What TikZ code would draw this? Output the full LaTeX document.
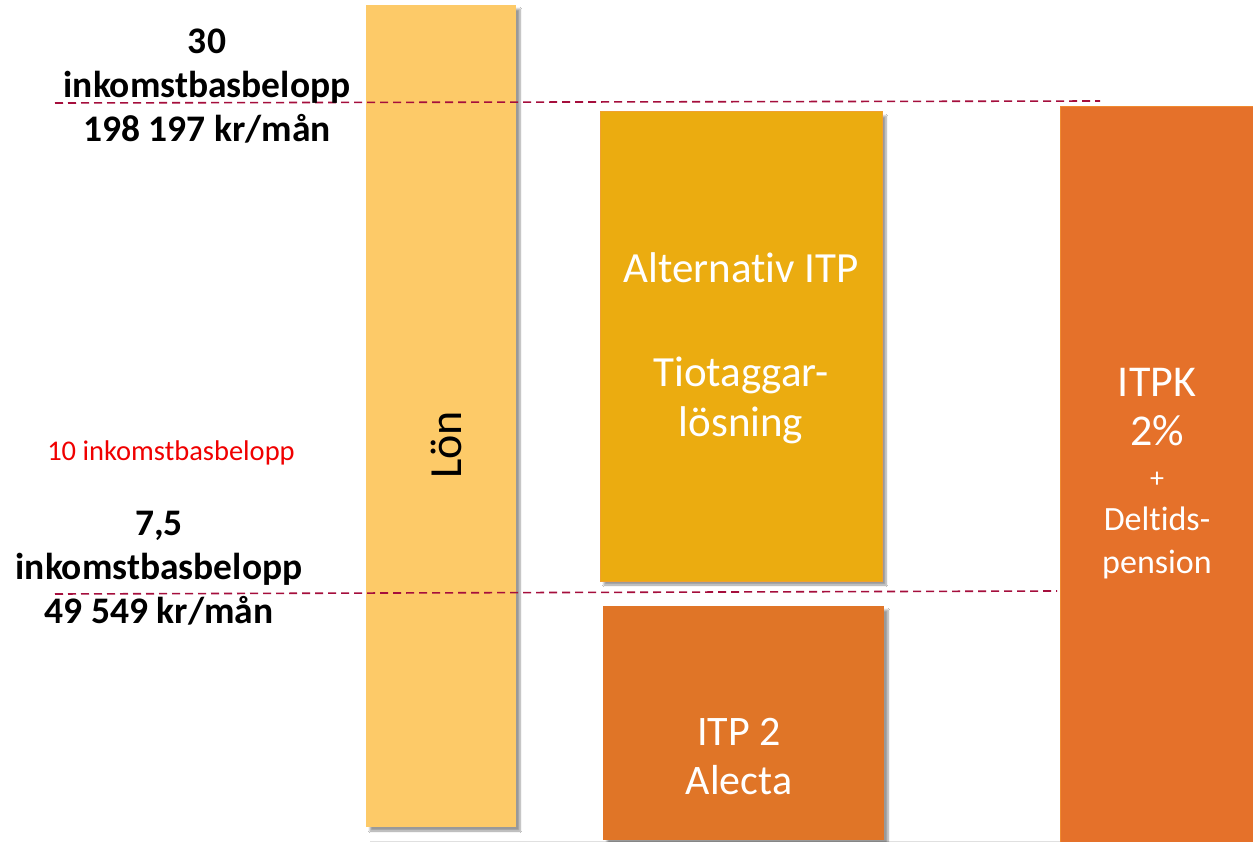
\documentclass[tikz,border=0pt]{standalone}
\usepackage{fontspec}
\setmainfont{Carlito}[Ligatures=NoCommon]
\usetikzlibrary{shadows.blur}
\definecolor{lon}{HTML}{FDCA68}
\definecolor{alt}{HTML}{EBAC10}
\definecolor{altb}{HTML}{F0A030}
\definecolor{itp}{HTML}{E07527}
\definecolor{itpk}{HTML}{E5712A}
\definecolor{itpkb}{HTML}{F08A30}
\definecolor{dash}{HTML}{A50E3C}
\definecolor{redtxt}{HTML}{F00000}
\begin{document}
\begin{tikzpicture}[x=1pt,y=-1pt,
  bar/.style={rectangle, inner sep=0pt, align=center, text=white,
    blur shadow={shadow xshift=4pt, shadow yshift=-4pt, shadow blur steps=6, shadow opacity=40}},
  wtxt/.style={text=white, align=center, inner sep=0pt},
  lvl/.style={align=center, font=\bfseries\fontsize{37.5}{44}\selectfont},
  dline/.style={draw=dash, line width=1.6pt, dash pattern=on 8pt off 5pt}]
\useasboundingbox (0,0) rectangle (1253,842);
\fill[white] (0,0) rectangle (1253,842);
\draw[black!12, line width=1pt] (370,841) -- (1060,841);
% bars
\node[bar, fill=lon, minimum width=150pt, minimum height=822pt] (lon) at (441,416) {};
\node[rotate=90, font=\fontsize{46}{50}\selectfont, text=black] (lontxt) at (446,445) {Lön};
\node[bar, fill=alt, draw=altb, line width=1pt, minimum width=282pt, minimum height=469pt] (alt) at (741,346.5) {};
\node[wtxt, font=\fontsize{43}{50}\selectfont] (alttxt) at (741,348.5) {Alternativ ITP\\[54pt]Tiotaggar-\\lösning};
\node[bar, fill=itp, minimum width=281pt, minimum height=234pt] (itp2) at (743.5,723) {};
\node[wtxt, font=\fontsize{42}{49}\selectfont] (itp2txt) at (739,756.5) {ITP 2\\Alecta};
\node[bar, fill=itpk, draw=itpkb, line width=1pt, minimum width=193pt, minimum height=735pt] (itpk) at (1156.5,474.5) {};
\node[wtxt, font=\fontsize{44}{49}\selectfont] (itpk1) at (1157,407.5) {ITPK\\2\%};
\node[wtxt, font=\fontsize{28}{30}\selectfont] (itpk2) at (1157,480) {+};
\node[wtxt, font=\fontsize{34}{43}\selectfont] (itpk3) at (1157,542.5) {Deltids-\\pension};
% dashed lines
\coordinate (d1s) at (55,103);
\coordinate (d1e) at (1100,101);
\coordinate (d2s) at (55,594);
\coordinate (d2e) at (1057,591);
\draw[dline] (d1s) -- (d1e);
\draw[dline] (d2s) -- (d2e);
% level labels
\node[lvl] (top) at (207,86) {30\\inkomstbasbelopp\\198 197 kr/mån};
\node[text=redtxt, font=\fontsize{28.5}{32}\selectfont] (ten) at (171,453) {10 inkomstbasbelopp};
\node[lvl] (low) at (159,568) {7,5\\inkomstbasbelopp\\49 549 kr/mån};
\end{tikzpicture}
\end{document}
